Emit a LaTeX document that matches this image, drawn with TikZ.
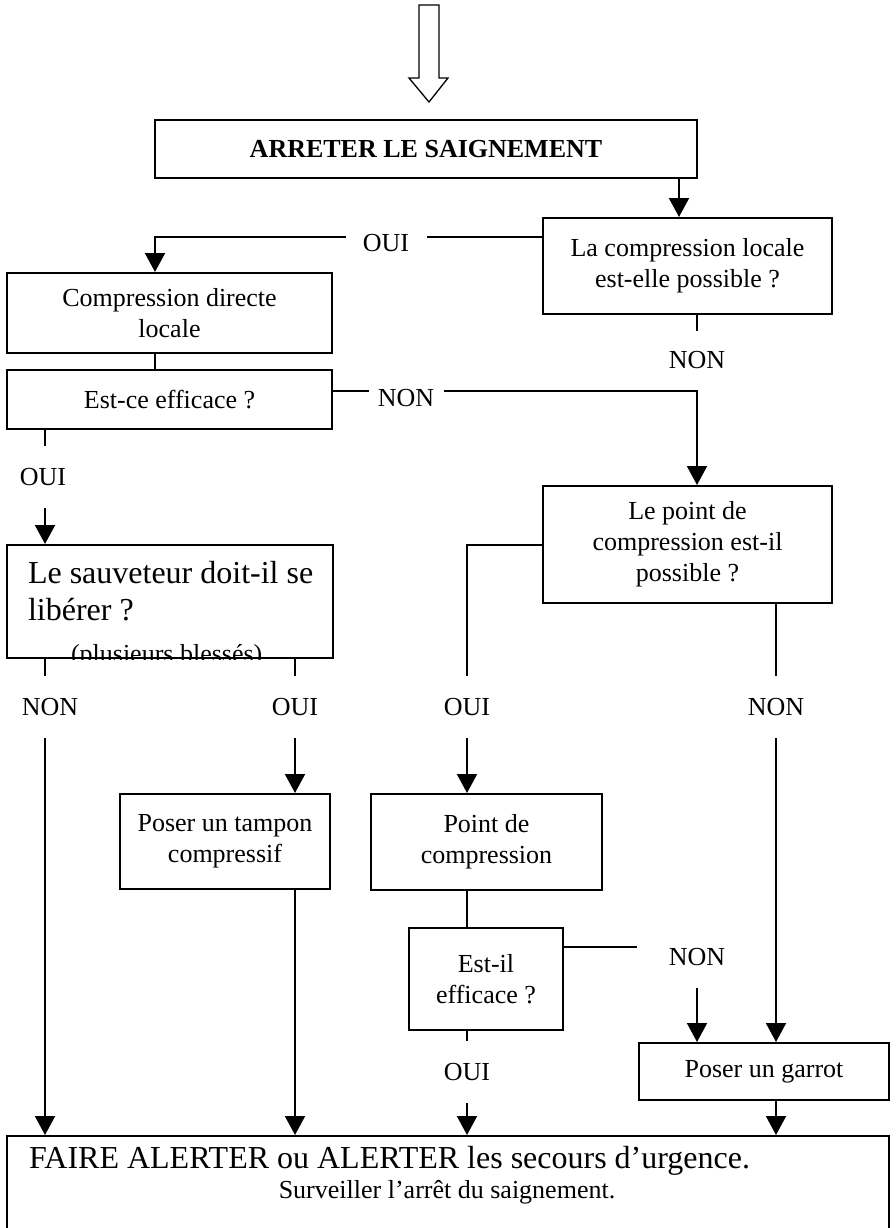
\documentclass[tikz,border=0pt]{standalone}
\usepackage{fontspec}
\setmainfont{Liberation Serif}
\usetikzlibrary{arrows.meta}
\newcommand{\flowtext}{\fontsize{26}{31}\selectfont}
\newcommand{\flowbig}{\fontsize{32}{37}\selectfont}

\begin{document}
\begin{tikzpicture}[x=1pt,y=-1pt,line width=2pt,
  >={Triangle[length=19pt,width=20pt]},
  box/.style={draw,inner sep=0pt,align=center,font=\flowtext},
  lbl/.style={inner sep=0pt,font=\flowtext,minimum height=60pt},
  hlbl/.style={inner sep=0pt,font=\flowtext,minimum height=30pt},
  boxtext/.style={inner sep=0pt,anchor=base west}]
  \useasboundingbox (0,0) rectangle (896,1228);

  % block arrow at the top
  \draw[line width=1.3pt] (419,5) -- (439,5) -- (439,78) -- (448,78) -- (429,102)
    -- (409,78) -- (419,78) -- cycle;

  \node[box,font=\flowtext\bfseries,minimum width=542pt,minimum height=57pt] (stop) at (426,149) {ARRETER LE SAIGNEMENT};
  \node[box,minimum width=289pt,minimum height=96pt] (qloc) at (687.5,266) {La compression locale\\est-elle possible ?};
  \node[box,minimum width=325pt,minimum height=80pt] (direct) at (169.5,313) {Compression directe\\locale};
  \node[box,minimum width=325pt,minimum height=59pt] (effA) at (169.5,399.5) {Est-ce efficace ?};
  \node[box,minimum width=289pt,minimum height=117pt] (qpt) at (687.5,544.5) {Le point de\\compression est-il\\possible ?};
  \node[box,minimum width=326pt,minimum height=113pt] (sauv) at (170,601.5) {};
  \node[box,minimum width=210pt,minimum height=95pt] (tampon) at (225,841.5) {Poser un tampon\\compressif};
  \node[box,minimum width=231pt,minimum height=96pt] (ptcomp) at (486.5,842) {Point de\\compression};
  \node[box,minimum width=154pt,minimum height=102pt] (effB) at (486,979) {Est-il\\efficace ?};
  \node[box,minimum width=250pt,minimum height=57pt] (garrot) at (764,1071.5) {Poser un garrot};
  \node[box,minimum width=882pt,minimum height=124pt] (alert) at (448,1198) {};

  \node[boxtext,font=\flowbig] (sauvA) at (27,583) {Le sauveteur doit-il se};
  \node[boxtext,font=\flowbig] (sauvB) at (27,620) {libérer ?};
  \begin{scope}
    \clip (sauv.north west) rectangle (sauv.south east);
    \node[boxtext] (sauvC) at (70,662) {\flowtext (plusieurs blessés)};
  \end{scope}
  \node[boxtext,font=\flowbig] (alertA) at (28,1168) {FAIRE ALERTER ou ALERTER les secours d’urgence.};
  \node[inner sep=0pt,anchor=base,font=\flowtext] (alertB) at (447,1198) {Surveiller l’arrêt du saignement.};

  \node[hlbl,minimum width=79pt] (ouiA) at (386,243) {OUI};
  \node[lbl,minimum height=56pt] (nonA) at (697,360) {NON};
  \node[hlbl,minimum width=73pt] (nonB) at (406,398) {NON};
  \node[lbl] (ouiB) at (43,477) {OUI};
  \node[lbl] (nonC) at (50,707) {NON};
  \node[lbl] (ouiC) at (295,707) {OUI};
  \node[lbl] (ouiD) at (467,707) {OUI};
  \node[lbl] (nonD) at (776,707) {NON};
  \node[lbl,minimum width=118pt] (nonE) at (697,957) {NON};
  \node[lbl] (ouiE) at (467,1072) {OUI};

  \coordinate (colQ) at (679,0);
  \coordinate (colA) at (155,0);
  \coordinate (colL) at (45,0);
  \coordinate (rowA) at (0,237);
  \coordinate (rowB) at (0,391);
  \coordinate (rowE) at (0,947);

  \draw[->] (stop.south -| colQ) -- (qloc.north -| colQ);
  \draw (qloc.west |- rowA) -- (ouiA.east |- rowA);
  \draw[->] (ouiA.west |- rowA) -- (colA |- rowA) -- (direct.north -| colA);
  \draw (direct.south -| colA) -- (effA.north -| colA);
  \draw (qloc.south -| nonA) -- (nonA.north);
  \draw (effA.east |- rowB) -- (nonB.west |- rowB);
  \draw[->] (nonB.east |- rowB) -- (nonA |- rowB) -- (qpt.north -| nonA);
  \draw (effA.south -| colL) -- (ouiB.north -| colL);
  \draw[->] (ouiB.south -| colL) -- (sauv.north -| colL);
  \draw (sauv.south -| colL) -- (nonC.north -| colL);
  \draw[->] (nonC.south -| colL) -- (alert.north -| colL);
  \draw (sauv.south -| ouiC) -- (ouiC.north);
  \draw[->] (ouiC.south) -- (tampon.north -| ouiC);
  \draw[->] (tampon.south -| ouiC) -- (alert.north -| ouiC);
  \draw (qpt.west) -- (qpt.west -| ouiD) -- (ouiD.north);
  \draw[->] (ouiD.south) -- (ptcomp.north -| ouiD);
  \draw (ptcomp.south -| ouiD) -- (effB.north -| ouiD);
  \draw (qpt.south -| nonD) -- (nonD.north);
  \draw[->] (nonD.south) -- (garrot.north -| nonD);
  \draw (effB.east |- rowE) -- (nonE.west |- rowE);
  \draw[->] (nonE.south) -- (garrot.north -| nonE);
  \draw (effB.south -| ouiE) -- (ouiE.north);
  \draw[->] (ouiE.south) -- (alert.north -| ouiE);
  \draw[->] (garrot.south -| nonD) -- (alert.north -| nonD);
\end{tikzpicture}
\end{document}
